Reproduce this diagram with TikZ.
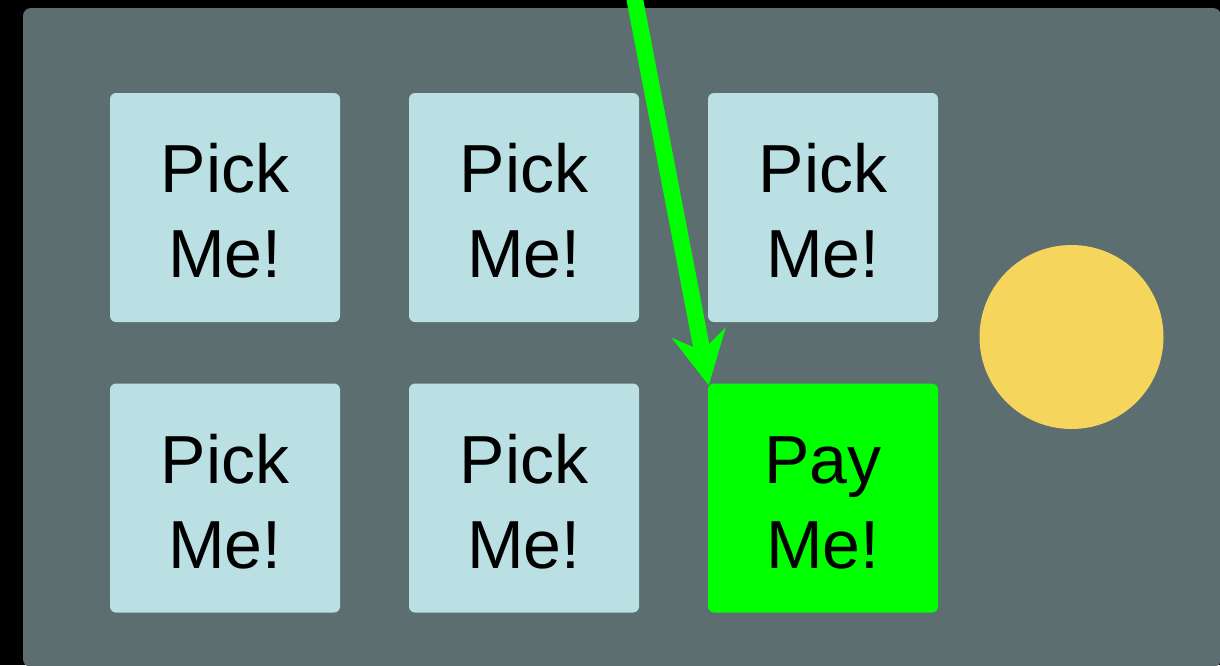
\documentclass[tikz,border=0pt]{standalone}
\usepackage{fontspec}
\setmainfont{Liberation Sans}
\usetikzlibrary{arrows.meta}
\definecolor{board}{HTML}{5C6E70}
\definecolor{tile}{HTML}{BAE0E3}
\definecolor{paygreen}{HTML}{00FF00}
\definecolor{coin}{HTML}{F6D55C}
\newcommand{\cardtext}[2]{\rule{0pt}{56pt}#1\\#2}
\tikzstyle{card} = [rectangle,fill=tile,rounded corners=6pt,minimum width=230pt,minimum height=229pt,inner sep=0pt,align=center,font=\fontsize{68}{85}\selectfont]
\tikzstyle{pointer} = [-{Stealth[length=53pt,width=54pt,inset=18pt]},line width=16.5pt,draw=paygreen]
\begin{document}
\begin{tikzpicture}[x=1pt,y=-1pt]
	\fill[black] (0,0) rectangle (1220,665);
	\useasboundingbox (0,0) rectangle (1220,665);
	\fill[board,rounded corners=8pt] (23,8) rectangle (1221,667);
	% top row
	\foreach \n/\x in {1/225,2/524,3/823}
	{\node[card] (t\n) at (\x,207.5) {\cardtext{Pick}{Me!}};}
	% bottom row
	\foreach \n/\x in {1/225,2/524}
	{\node[card] (b\n) at (\x,498) {\cardtext{Pick}{Me!}};}
	\node[card,fill=paygreen] (pay) at (823,498) {\cardtext{Pay}{Me!}};
	\node[circle,fill=coin,minimum size=184pt,inner sep=0pt] (coin) at (1071.5,337) {};
	\coordinate (from) at (633,-10);
	\draw[pointer] (from) -- ([xshift=1pt,yshift=-2pt]pay.north west);
\end{tikzpicture}
\end{document}
